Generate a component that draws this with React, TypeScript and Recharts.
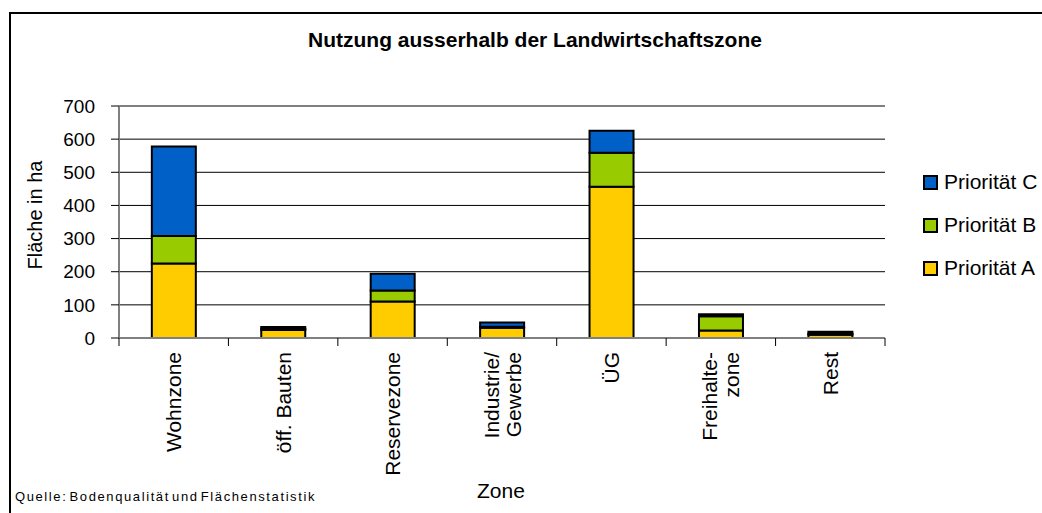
import { BarChart, Bar, XAxis, YAxis, CartesianGrid } from 'recharts';

const categories = ['Wohnzone', 'öff. Bauten', 'Reservezone', 'Industrie/\nGewerbe', 'ÜG', 'Freihalte-\nzone', 'Rest'];
const prioA = [225, 24, 110, 31, 456, 23, 10];
const prioB = [83, 4, 33, 3, 103, 43, 3];
const prioC = [270, 5, 51, 13, 66, 6, 6];
const yTicks = [0, 100, 200, 300, 400, 500, 600, 700];

const series = [
  { key: 'C', name: 'Priorität C', color: '#0060C8' },
  { key: 'B', name: 'Priorität B', color: '#99CC00' },
  { key: 'A', name: 'Priorität A', color: '#FFCC00' },
];

const data = categories.map((c, i) => ({ zone: c, A: prioA[i], B: prioB[i], C: prioC[i] }));

const FONT = '"Liberation Sans", Arial, sans-serif';
const HALF_BAND = (885 - 119) / categories.length / 2;

function ZoneTick(props: any) {
  const { x, y, payload, index } = props;
  const lines = String(payload.value).split('\n');
  const lh = 22;
  return (
    <g>
      <line x1={x + HALF_BAND} y1={y - 8} x2={x + HALF_BAND} y2={y} stroke="#000" strokeWidth={1} />
      {index === 0 && <line x1={x - HALF_BAND} y1={y - 8} x2={x - HALF_BAND} y2={y} stroke="#000" strokeWidth={1} />}
      <g transform={`translate(${x},${y + 6}) rotate(-90)`}>
        {lines.map((l, i) => (
          <text
            key={i}
            x={0}
            y={(i - (lines.length - 1) / 2) * lh}
            dy="0.36em"
            textAnchor="end"
            fontSize={21}
            fontFamily={FONT}
            fill="#000"
          >
            {l}
          </text>
        ))}
      </g>
    </g>
  );
}

export default function App() {
  return (
    <div style={{ position: 'fixed', left: 0, top: 0, width: 1042, height: 513, background: '#fff', fontFamily: FONT, overflow: 'hidden' }}>
      <div style={{ position: 'absolute', left: 9, top: 12, width: 1100, height: 600, borderLeft: '2px solid #000', borderTop: '2px solid #000' }} />
      <div style={{ position: 'absolute', left: 0, width: 1070, top: 28, textAlign: 'center', fontWeight: 'bold', fontSize: 21 }}>
        Nutzung ausserhalb der Landwirtschaftszone
      </div>
      <div style={{ position: 'absolute', left: 0, top: 108, width: 70, height: 230 }}>
        <div style={{ position: 'absolute', left: 35, top: 107, transform: 'translate(-50%,-50%) rotate(-90deg)', whiteSpace: 'nowrap', fontSize: 20 }}>
          Fläche in ha
        </div>
      </div>
      <div style={{ position: 'absolute', left: 477, top: 479, fontSize: 21 }}>Zone</div>
      <div style={{ position: 'absolute', left: 15, top: 489, fontSize: 13, letterSpacing: 1.6, wordSpacing: -3 }}>
        Quelle: Bodenqualität und Flächenstatistik
      </div>
      <div style={{ position: 'absolute', left: 0, top: 0 }}>
        <BarChart width={1042} height={513} data={data} margin={{ top: 106, right: 157, bottom: 0, left: 0 }} barCategoryGap="30%">
          <CartesianGrid vertical={false} stroke="#000" strokeWidth={1} />
          <XAxis
            dataKey="zone"
            height={175}
            interval={0}
            axisLine={{ stroke: '#808080', strokeWidth: 2 }}
            tickLine={false}
            tick={<ZoneTick />}
          />
          <YAxis
            domain={[0, 700]}
            ticks={yTicks}
            width={119}
            axisLine={{ stroke: '#808080', strokeWidth: 2 }}
            tickLine={{ stroke: '#000' }}
            tickSize={8}
            tick={{ fontSize: 19, fill: '#000', fontFamily: FONT, dx: -14 }}
            interval={0}
          />
          <YAxis yAxisId="r" orientation="right" width={0} domain={[0, 700]} tick={false} tickLine={false} axisLine={{ stroke: '#808080', strokeWidth: 2 }} />
          <Bar dataKey="A" name="Priorität A" stackId="s" fill="#FFCC00" stroke="#000" strokeWidth={2} isAnimationActive={false} />
          <Bar dataKey="B" name="Priorität B" stackId="s" fill="#99CC00" stroke="#000" strokeWidth={2} isAnimationActive={false} />
          <Bar dataKey="C" name="Priorität C" stackId="s" fill="#0060C8" stroke="#000" strokeWidth={2} isAnimationActive={false} />
        </BarChart>
      </div>
      {series.map((s, i) => (
        <div key={s.key} style={{ position: 'absolute', left: 923, top: 170 + i * 43, display: 'flex', alignItems: 'center', fontSize: 21 }}>
          <span style={{ display: 'inline-block', width: 11, height: 11, background: s.color, border: '2px solid #000', marginRight: 6 }} />
          <span>{s.name}</span>
        </div>
      ))}
    </div>
  );
}
